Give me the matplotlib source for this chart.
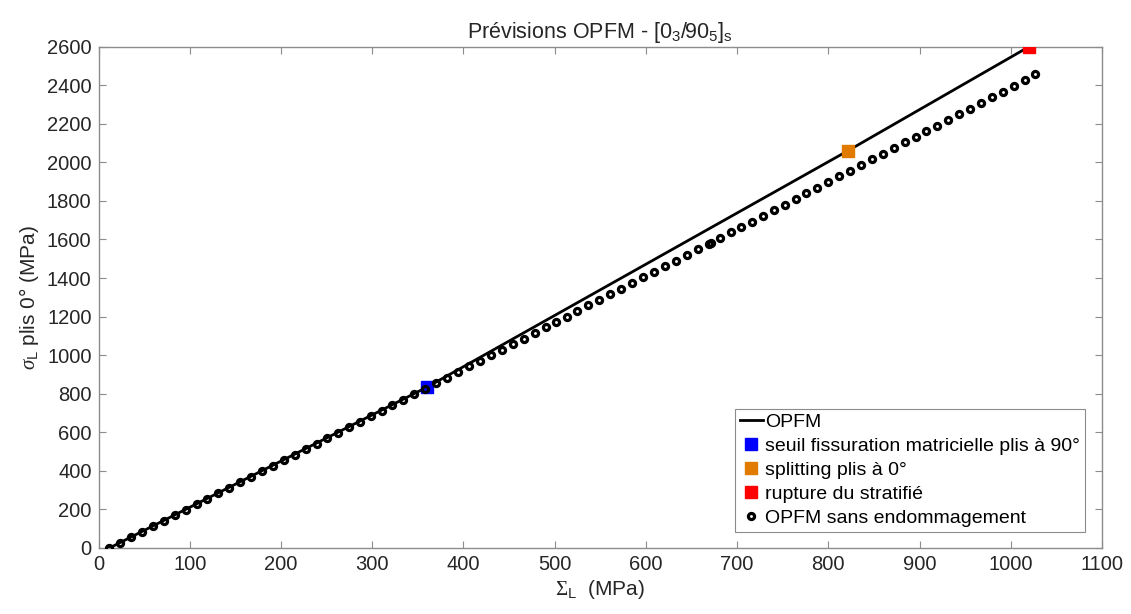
import matplotlib
matplotlib.use("Agg")
import matplotlib.pyplot as plt

plt.rcParams['font.family'] = ['Liberation Sans', 'DejaVu Sans']
plt.rcParams['mathtext.fontset'] = 'custom'
plt.rcParams['mathtext.rm'] = 'Liberation Sans'
plt.rcParams['mathtext.it'] = 'Liberation Serif:italic'
plt.rcParams['mathtext.cal'] = 'Liberation Serif'

# === Données lues sur la figure
# courbe OPFM (avec endommagement)
opfm_x = [12, 360, 821, 1020]
opfm_y = [0, 834, 2059, 2600]

# événements
seuil_x, seuil_y = [360], [834]
split_x, split_y = [821], [2059]
rupt_x, rupt_y = [1020], [2600]

# OPFM sans endommagement
sans_x = [12, 24, 36, 48, 60, 72, 84, 96, 108, 119, 131, 143, 155, 167, 179,
          191, 203, 215, 227, 239, 251, 263, 275, 287, 299, 311, 322, 334, 346,
          358, 370, 382, 394, 406, 418, 430, 442, 454, 466, 478, 490, 502, 513,
          525, 537, 549, 561, 573, 585, 597, 609, 621, 633, 645, 657, 669, 671,
          681, 693, 704, 716, 728, 740, 752, 764, 776, 788, 800, 812, 824, 836,
          848, 860, 872, 884, 896, 907, 919, 931, 943, 955, 967, 979, 991, 1003,
          1015, 1027]
sans_y = [0, 28.4, 56.9, 85.4, 113.9, 142.4, 170.9, 199.4, 228.0, 254.2, 282.7,
          311.3, 339.9, 368.5, 397.2, 425.8, 454.5, 483.1, 511.8, 540.5, 569.2,
          598.0, 626.7, 655.5, 684.2, 713.0, 739.4, 768.2, 797.1, 825.9, 854.7,
          883.6, 912.5, 941.4, 970.3, 999.2, 1028.2, 1057.1, 1086.1, 1115.1,
          1144.1, 1173.1, 1199.7, 1228.7, 1257.8, 1286.8, 1315.9, 1345.0, 1374.1,
          1403.2, 1432.4, 1461.5, 1490.7, 1519.8, 1549.0, 1578.2, 1583.0, 1607.5,
          1636.7, 1663.5, 1692.8, 1722.0, 1751.3, 1780.6, 1810.0, 1839.3, 1868.6,
          1898.0, 1927.4, 1956.8, 1986.2, 2015.6, 2045.0, 2074.4, 2103.9, 2133.4,
          2160.4, 2189.9, 2219.4, 2248.9, 2278.5, 2308.0, 2337.6, 2367.2, 2396.8,
          2426.4, 2456.0]

xticks = list(range(0, 1101, 100))
yticks = list(range(0, 2601, 200))

# === Figure
fig = plt.figure(figsize=(11.31, 6.14), dpi=100)
ax = fig.add_axes([0.0871, 0.1075, 0.8873, 0.8165])

ax.plot(opfm_x, opfm_y, color='black', lw=2.0, label='OPFM', zorder=2)
ax.plot(seuil_x, seuil_y, 's', color='#0000ff', ms=9, label='seuil fissuration matricielle plis à 90°', zorder=3)
ax.plot(split_x, split_y, 's', color='#e07b00', ms=9, label='splitting plis à 0°', zorder=3)
ax.plot(rupt_x, rupt_y, 's', color='#ff0000', ms=9, label='rupture du stratifié', zorder=3)
ax.plot(sans_x, sans_y, 'o', mfc='none', mec='black', mew=2.3, ms=4.4,
        label='OPFM sans endommagement', zorder=4)

ax.set_xlim(0, 1100)
ax.set_ylim(0, 2600)
ax.set_xticks(xticks)
ax.set_yticks(yticks)

gray = '#8c8c8c'
for s in ax.spines.values():
    s.set_color(gray)
    s.set_linewidth(1.0)
ax.tick_params(direction='in', length=5, width=0.8, color=gray, labelcolor='#262626',
               labelsize=14.5, top=True, right=True, pad=5)

ax.set_title(r'Prévisions OPFM - [0$_{3}$/90$_{5}$]$_{\mathrm{s}}$', fontsize=15.5,
             color='#262626', pad=6)
ax.set_xlabel(r'$\mathcal{\Sigma}_{\mathrm{L}}$  (MPa)', fontsize=15, color='#262626', labelpad=3)
ax.set_ylabel(r'$\it{\sigma}_{\mathrm{L}}$ plis 0° (MPa)', fontsize=15, color='#262626', labelpad=4)

leg = ax.legend(loc='lower right', bbox_to_anchor=(0.983, 0.032), borderaxespad=0,
                fontsize=14, handlelength=1.2, handletextpad=0.12, labelspacing=0.33,
                borderpad=0.25, fancybox=False, framealpha=1, edgecolor=gray,
                markerscale=1.0)
leg.get_frame().set_linewidth(0.8)

fig.savefig('out.png', dpi=100)
